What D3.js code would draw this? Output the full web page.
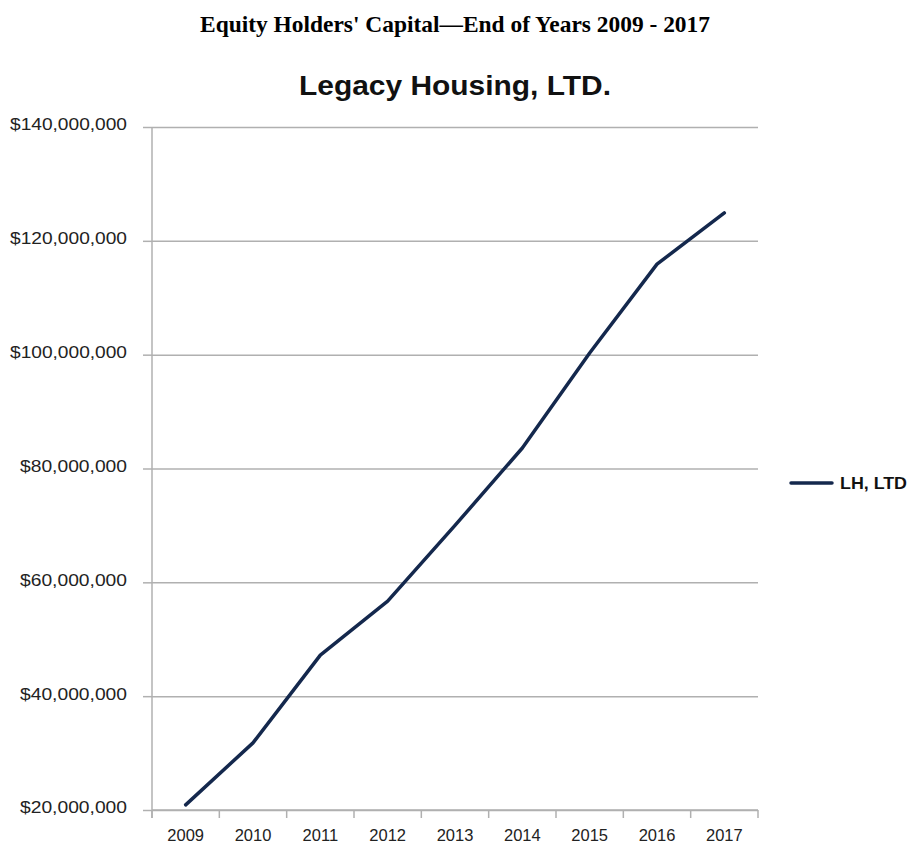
<!DOCTYPE html>
<html>
<head>
<meta charset="utf-8">
<script src="https://cdn.jsdelivr.net/npm/d3@7"></script>
<style>
  body { margin: 0; background: #fff; }
  .grid line { stroke: #b0b0b0; stroke-width: 1.5; }
  .axis path, .axis line { stroke: #b0b0b0; stroke-width: 1.5; }
  .axis text { font-family: "Liberation Sans", Arial, sans-serif; fill: #222; }
</style>
</head>
<body>
<script>
//chart data
var years = ["2009", "2010", "2011", "2012", "2013", "2014", "2015", "2016", "2017"];
var capital = [20900000, 31800000, 47200000, 56700000, 70000000, 83600000, 100300000, 115900000, 124900000];
var yTicks = [20000000, 40000000, 60000000, 80000000, 100000000, 120000000, 140000000];
var seriesName = "LH, LTD";

window.onload = drawChart();

function drawChart() {
    var width = 908,
        height = 845;

    var left = 152, right = 758, top = 127, bottom = 810;

    var svg = d3.select("body")
        .append("svg")
        .attr("width", width)
        .attr("height", height);

    //page heading
    svg.append("text")
        .attr("x", 455)
        .attr("y", 32)
        .attr("text-anchor", "middle")
        .attr("textLength", 510)
        .attr("lengthAdjust", "spacingAndGlyphs")
        .style("font-family", "'Liberation Serif', 'Times New Roman', serif")
        .style("font-weight", "bold")
        .style("font-size", "22.5px")
        .text("Equity Holders' Capital\u2014End of Years 2009 - 2017");

    //chart title
    svg.append("text")
        .attr("x", 455)
        .attr("y", 95)
        .attr("text-anchor", "middle")
        .attr("textLength", 312)
        .attr("lengthAdjust", "spacingAndGlyphs")
        .style("font-family", "'Liberation Sans', Arial, sans-serif")
        .style("font-weight", "bold")
        .style("font-size", "27px")
        .style("fill", "#111")
        .text("Legacy Housing, LTD.");

    var x = d3.scaleBand()
        .domain(years)
        .range([left, right]);

    var y = d3.scaleLinear()
        .domain([20000000, 140000000])
        .range([bottom, top]);

    var fmt = function(d) { return "$" + d3.format(",")(d); };

    //horizontal gridlines
    svg.append("g")
        .attr("class", "grid")
        .attr("transform", "translate(" + left + ",0)")
        .call(d3.axisLeft(y).tickValues(yTicks).tickSize(-(right - left)).tickFormat(""))
        .call(function(g) { g.select(".domain").remove(); });

    //y axis
    var yAxis = svg.append("g")
        .attr("class", "axis")
        .attr("transform", "translate(" + left + ",0)")
        .call(d3.axisLeft(y).tickValues(yTicks).tickSize(9).tickSizeOuter(0).tickPadding(16).tickFormat(fmt));
    yAxis.select(".domain").attr("d", "M0," + top + "V" + (bottom + 8));
    yAxis.selectAll("text")
        .attr("dy", "0.18em")
        .attr("textLength", 117)
        .attr("lengthAdjust", "spacingAndGlyphs")
        .style("font-size", "16.5px");
    yAxis.selectAll("text")
        .filter(function(d) { return d < 100000000; })
        .attr("textLength", 107);

    //x axis with ticks at band edges
    var xAxis = svg.append("g")
        .attr("class", "axis")
        .attr("transform", "translate(0," + bottom + ")")
        .call(d3.axisBottom(x).tickSize(0).tickPadding(19));
    xAxis.select(".domain").attr("d", "M" + left + ",0H" + right);
    xAxis.selectAll("text").style("font-size", "16.5px");
    xAxis.selectAll(".edge")
        .data(years.concat(["end"]))
        .enter()
        .append("line")
        .attr("class", "edge")
        .attr("x1", function(d, i) { return left + i * x.bandwidth(); })
        .attr("x2", function(d, i) { return left + i * x.bandwidth(); })
        .attr("y1", 0)
        .attr("y2", 8);

    //data line
    var line = d3.line()
        .x(function(d, i) { return x(years[i]) + x.bandwidth() / 2; })
        .y(function(d) { return y(d); });

    svg.append("path")
        .datum(capital)
        .attr("fill", "none")
        .attr("stroke", "#14284d")
        .attr("stroke-width", 3.5)
        .attr("stroke-linejoin", "round")
        .attr("stroke-linecap", "round")
        .attr("d", line);

    //legend
    svg.append("line")
        .attr("x1", 791).attr("x2", 832)
        .attr("y1", 483).attr("y2", 483)
        .attr("stroke", "#14284d")
        .attr("stroke-width", 3.5)
        .attr("stroke-linecap", "round");

    svg.append("text")
        .attr("x", 840)
        .attr("y", 489)
        .attr("textLength", 67)
        .attr("lengthAdjust", "spacingAndGlyphs")
        .style("font-family", "'Liberation Sans', Arial, sans-serif")
        .style("font-weight", "bold")
        .style("font-size", "16px")
        .style("fill", "#111")
        .text(seriesName);
}
</script>
</body>
</html>
